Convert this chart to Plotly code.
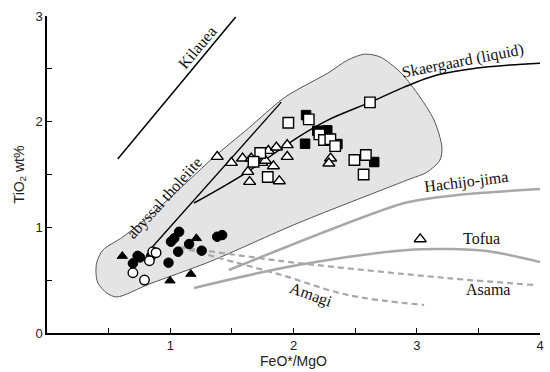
import plotly.graph_objects as go

# ---- data ----
region_x = [0.485, 0.413, 0.397, 0.405, 0.453, 0.614, 0.887, 1.153, 1.354, 1.636, 1.933, 2.279, 2.440,
            2.577, 2.706, 2.866, 3.003, 3.140, 3.204, 3.188, 3.084, 2.923, 2.038, 1.314, 0.831, 0.566, 0.485]
region_y = [0.378, 0.473, 0.577, 0.672, 0.785, 0.908, 1.164, 1.447, 1.665, 1.939, 2.233, 2.460, 2.583,
            2.639, 2.611, 2.469, 2.271, 2.015, 1.760, 1.637, 1.523, 1.448, 1.041, 0.672, 0.464, 0.341, 0.378]

kilauea_x = [0.574, 1.531]
kilauea_y = [1.646, 2.990]

abyssal_x = [0.847, 1.901]
abyssal_y = [0.804, 2.185]

skaer_x = [1.193, 1.612, 2.038, 2.279, 2.625, 2.898, 3.164, 3.486, 3.752, 4.0]
skaer_y = [1.230, 1.514, 1.854, 2.015, 2.185, 2.327, 2.441, 2.507, 2.536, 2.554]

hachijo_x = [1.475, 2.899, 3.405, 4.0]
hachijo_y = [0.596, 1.230, 1.315, 1.362]

tofua_x = [1.193, 2.038, 2.923, 3.245, 3.567, 4.0]
tofua_y = [0.426, 0.643, 0.785, 0.795, 0.776, 0.672]

asama_x = [1.073, 1.716, 2.038, 3.245, 3.953]
asama_y = [0.814, 0.710, 0.662, 0.520, 0.454]

amagi_x = [1.073, 1.395, 1.901, 2.440, 3.060]
amagi_y = [0.814, 0.710, 0.549, 0.360, 0.265]

fcirc_x = [0.735, 0.755, 0.697, 0.845, 0.986, 1.006, 1.032, 1.072, 1.064, 1.153, 1.255, 1.381, 1.421]
fcirc_y = [0.730, 0.715, 0.659, 0.728, 0.665, 0.864, 0.896, 0.958, 0.769, 0.842, 0.779, 0.911, 0.927]

ocirc_x = [0.697, 0.791, 0.831, 0.858, 0.885]
ocirc_y = [0.570, 0.501, 0.684, 0.769, 0.760]

ftri_x = [0.611, 1.212, 0.998, 1.167]
ftri_y = [0.728, 0.896, 0.495, 0.558]

otri_x = [1.381, 1.496, 1.587, 1.657, 1.702, 1.743, 1.772, 1.796, 1.861, 1.949, 1.949, 1.837,
          1.630, 1.644, 1.885, 2.301, 2.287, 2.561, 3.028]
otri_y = [1.668, 1.611, 1.653, 1.653, 1.611, 1.611, 1.632, 1.725, 1.757, 1.779, 1.668, 1.580,
          1.526, 1.431, 1.438, 1.653, 1.605, 1.668, 0.889]

fsq_x = [2.102, 2.193, 2.274, 2.094, 2.655, 2.356]
fsq_y = [2.062, 1.914, 1.918, 1.791, 1.618, 1.788]

osq_x = [1.958, 2.124, 1.730, 1.676, 1.791, 2.210, 2.247, 2.299, 2.338, 2.494, 2.587, 2.569, 2.620]
osq_y = [1.990, 2.022, 1.703, 1.621, 1.476, 1.880, 1.826, 1.833, 1.769, 1.637, 1.684, 1.500, 2.183]

labels = ["Kilauea", "abyssal tholeiite", "Skaergaard (liquid)", "Hachijo-jima", "Tofua", "Asama", "Amagi"]
label_x = [1.217, 0.955, 3.373, 3.397, 3.527, 3.582, 2.142]
label_y = [2.706, 1.275, 2.573, 1.429, 0.899, 0.407, 0.360]
label_angle = [-50, -48, -11, -7, 0, 0, 20]

x_ticks = [1, 2, 3, 4]
y_ticks = [0, 1, 2, 3]

# ---- figure ----
fig = go.Figure()

fig.add_trace(go.Scatter(x=region_x, y=region_y, mode="lines", fill="toself",
                         fillcolor="#e4e4e4", line=dict(color="#555555", width=1, shape="spline", smoothing=0.8),
                         hoverinfo="skip"))

fig.add_trace(go.Scatter(x=kilauea_x, y=kilauea_y, mode="lines", line=dict(color="black", width=1.5)))
fig.add_trace(go.Scatter(x=abyssal_x, y=abyssal_y, mode="lines", line=dict(color="black", width=1.3)))
fig.add_trace(go.Scatter(x=skaer_x, y=skaer_y, mode="lines",
                         line=dict(color="black", width=1.5, shape="spline")))

gray = "#a8a8a8"
fig.add_trace(go.Scatter(x=hachijo_x, y=hachijo_y, mode="lines",
                         line=dict(color=gray, width=2.5, shape="spline", smoothing=0.6)))
fig.add_trace(go.Scatter(x=tofua_x, y=tofua_y, mode="lines",
                         line=dict(color=gray, width=2.5, shape="spline")))
fig.add_trace(go.Scatter(x=asama_x, y=asama_y, mode="lines",
                         line=dict(color=gray, width=2.2, dash="6px,4px", shape="spline")))
fig.add_trace(go.Scatter(x=amagi_x, y=amagi_y, mode="lines",
                         line=dict(color=gray, width=2.2, dash="6px,4px", shape="spline")))

mk_line = dict(color="black", width=1.4)
fig.add_trace(go.Scatter(x=fcirc_x, y=fcirc_y, mode="markers",
                         marker=dict(symbol="circle", size=9.5, color="black", line=dict(color="black", width=1))))
fig.add_trace(go.Scatter(x=ocirc_x, y=ocirc_y, mode="markers",
                         marker=dict(symbol="circle", size=9.5, color="white", line=mk_line)))
fig.add_trace(go.Scatter(x=ftri_x, y=ftri_y, mode="markers",
                         marker=dict(symbol="triangle-up", size=9, color="black", line=dict(color="black", width=1))))
fig.add_trace(go.Scatter(x=otri_x, y=otri_y, mode="markers",
                         marker=dict(symbol="triangle-up", size=10.5, color="white", line=mk_line)))
fig.add_trace(go.Scatter(x=fsq_x, y=fsq_y, mode="markers",
                         marker=dict(symbol="square", size=9.5, color="black", line=dict(color="black", width=1))))
fig.add_trace(go.Scatter(x=osq_x, y=osq_y, mode="markers",
                         marker=dict(symbol="square", size=10.5, color="white", line=mk_line)))

for t, lx, ly, ang in zip(labels, label_x, label_y, label_angle):
    fig.add_annotation(x=lx, y=ly, text=t, textangle=ang, showarrow=False,
                       font=dict(family="Liberation Serif", size=16, color="#111111"))

axis_common = dict(showgrid=False, zeroline=False, showline=True, linecolor="black", linewidth=1.5,
                   ticks="inside", ticklen=5, tickwidth=1.2, tickcolor="black",
                   tickfont=dict(family="Liberation Sans", size=13, color="#222222"))

fig.update_xaxes(range=[0, 4], tickmode="array", tickvals=x_ticks, ticktext=[str(v) for v in x_ticks],
                 minor=dict(dtick=0.5, tick0=0, ticks="inside", ticklen=5, tickwidth=1.2, tickcolor="black"),
                 title=dict(text="FeO*/MgO", font=dict(family="Liberation Sans", size=14, color="#222222"),
                            standoff=3),
                 **axis_common)
fig.update_yaxes(range=[0, 3], tickmode="array", tickvals=y_ticks, ticktext=[str(v) for v in y_ticks],
                 minor=dict(dtick=0.5, tick0=0, ticks="inside", ticklen=5, tickwidth=1.2, tickcolor="black"),
                 title=dict(text="TiO<sub>2</sub> wt%", font=dict(family="Liberation Sans", size=14, color="#222222"),
                            standoff=8),
                 **axis_common)

fig.update_layout(width=550, height=372, margin=dict(l=47, r=6, t=16, b=39),
                  plot_bgcolor="white", paper_bgcolor="white", showlegend=False)

fig.write_html("out.html")
